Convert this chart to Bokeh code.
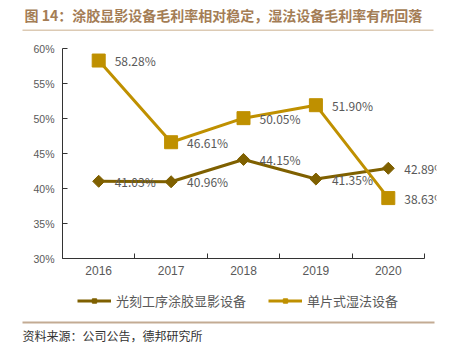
import math
from bokeh.plotting import figure
from bokeh.layouts import column
from bokeh.models import (FixedTicker, PrintfTickFormatter, Label, Legend, LegendItem,
                          ColumnDataSource, LinearAxis)
from bokeh.core.properties import value
from bokeh.embed import file_html
from bokeh.resources import INLINE

years = ["2016", "2017", "2018", "2019", "2020"]
coating = [41.03, 40.96, 44.15, 41.35, 42.89]
wet = [58.28, 46.61, 50.05, 51.90, 38.63]
series_names = ["光刻工序涂胶显影设备", "单片式湿法设备"]
title_text = "图 14：涂胶显影设备毛利率相对稳定，湿法设备毛利率有所回落"
source_text = "资料来源：公司公告，德邦研究所"
y_ticks = [30, 35, 40, 45, 50, 55, 60]

DARK = "#7F6000"
GOLD = "#BF9000"
GRAY = "#595959"
W = 452
TOP_H, MAIN_H, BOT_H = 40, 250, 63


def blank(h):
    f = figure(width=W, height=h, output_backend="svg", toolbar_location=None,
               x_range=(0, W), y_range=(h, 0), min_border=0,
               x_axis_type=None, y_axis_type=None, frame_align=False)
    f.outline_line_color = None
    f.grid.visible = False
    f.background_fill_color = "white"
    f.border_fill_color = "white"
    return f


# ---- top: title + rule
top = blank(TOP_H)
top.add_layout(Label(x=24, y=14, text=title_text, text_font="Noto Sans CJK SC",
                     text_font_size="14px", text_font_style="bold", text_color="#A47D55",
                     text_baseline="middle", text_align="left"))
top.quad(left=[22], right=[433], top=[29], bottom=[30.5], fill_color="#DCCAB4", line_color=None)

# ---- main chart
xs = list(range(len(years)))
src1 = ColumnDataSource(dict(x=xs, y=coating, t=[f"{v:.2f}%" for v in coating]))
src2 = ColumnDataSource(dict(x=xs, y=wet, t=[f"{v:.2f}%" for v in wet]))

FL, FR, FT, FB = 62, 436, 8, 218
unit = (424 - 62) / 5.0

p = figure(width=W, height=MAIN_H, output_backend="svg", toolbar_location=None,
           x_range=(-0.5, -0.5 + (FR - FL) / unit), y_range=(30, 60),
           min_border_left=FL, min_border_right=W - FR, min_border_top=FT,
           min_border_bottom=MAIN_H - FB, x_axis_type=None, y_axis_type=None,
           frame_align=False)
p.outline_line_color = None
p.grid.visible = False
p.background_fill_color = "white"
p.border_fill_color = "white"

xax = LinearAxis(ticker=FixedTicker(ticks=xs, minor_ticks=[i - 0.5 for i in range(len(years) + 1)]))
xax.major_label_overrides = {i: y for i, y in enumerate(years)}
xax.bounds = (-0.5, len(years) - 0.5)
xax.major_tick_in = 0
xax.major_tick_out = 0
xax.minor_tick_in = 5
xax.minor_tick_out = 0
xax.minor_tick_line_color = "#333333"
xax.axis_line_color = "#333333"
xax.major_label_text_font = "Liberation Sans"
xax.major_label_text_font_size = "12px"
xax.major_label_text_color = GRAY
xax.major_label_standoff = 7
p.add_layout(xax, "below")

yax = LinearAxis(ticker=FixedTicker(ticks=y_ticks), formatter=PrintfTickFormatter(format="%d%%"))
yax.major_tick_in = 5
yax.major_tick_out = 0
yax.minor_tick_line_color = None
yax.axis_line_color = "#333333"
yax.major_tick_line_color = "#333333"
yax.major_label_text_font = "Liberation Sans"
yax.major_label_text_font_size = "10.5px"
yax.major_label_text_color = GRAY
yax.major_label_standoff = 8
p.add_layout(yax, "left")

p.line("x", "y", source=src1, line_color=DARK, line_width=3)
p.scatter("x", "y", source=src1, marker="square", angle=math.pi / 4, size=8.5,
          fill_color=DARK, line_color=DARK)
p.line("x", "y", source=src2, line_color=GOLD, line_width=3)
p.scatter("x", "y", source=src2, marker="square", size=13, fill_color=GOLD, line_color=GOLD)

for s in (src1, src2):
    p.text("x", "y", text="t", source=s, x_offset=16, text_baseline="middle",
           text_align="left", text_font=value("Noto Sans CJK SC"), text_font_size="12px",
           text_color=GRAY)

# ---- bottom: legend, rule, source
bot = blank(BOT_H)
nan = float("nan")
l1 = bot.line(x=[nan], y=[nan], line_color=DARK, line_width=3)
m1 = bot.scatter(x=[nan], y=[nan], marker="square", angle=math.pi / 4, size=3,
                 fill_color=DARK, line_color=DARK)
l2 = bot.line(x=[nan], y=[nan], line_color=GOLD, line_width=3)
m2 = bot.scatter(x=[nan], y=[nan], marker="square", size=4, fill_color=GOLD, line_color=GOLD)
legend = Legend(items=[LegendItem(label=series_names[0], renderers=[l1, m1]),
                       LegendItem(label=series_names[1], renderers=[l2, m2])],
                orientation="horizontal", location=(77, BOT_H - 20), padding=0, margin=0,
                spacing=22, glyph_width=34, glyph_height=11, label_height=20,
                label_standoff=5, border_line_color=None, background_fill_alpha=0,
                label_text_font="Noto Sans CJK SC", label_text_font_size="13px",
                label_text_color=GRAY)
bot.add_layout(legend, "center")
bot.quad(left=[22], right=[434], top=[31], bottom=[33], fill_color="#C3AB93", line_color=None)
bot.add_layout(Label(x=22, y=45, text=source_text, text_font="Noto Sans CJK SC",
                     text_font_size="12px", text_color="#333333",
                     text_baseline="middle", text_align="left"))

layout = column(top, p, bot, spacing=0)
open("out.html", "w").write(file_html(layout, INLINE))
